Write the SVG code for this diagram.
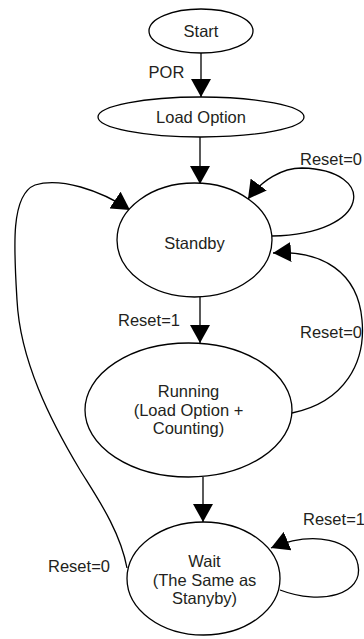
<svg xmlns="http://www.w3.org/2000/svg" width="364" height="639" viewBox="0 0 364 639">
  <style>
    .node ellipse { fill: #ffffff; stroke: #000000; stroke-width: 1.3; }
    .node text, .label { font-family: "Liberation Sans", Arial, sans-serif; font-size: 16.5px; fill: #231f20; text-anchor: middle; }
    .edge { fill: none; stroke: #000000; stroke-width: 1.3; marker-end: url(#arrow); }
  </style>
  <defs>
    <marker id="arrow" viewBox="0 0 18 20" refX="18" refY="10" markerWidth="18" markerHeight="20" markerUnits="userSpaceOnUse" orient="auto">
      <path d="M0,0 L18,10 L0,20 z" fill="#000000"/>
    </marker>
  </defs>
  <rect width="364" height="639" fill="#ffffff"/>

  <g id="connectors">
    <path class="edge" d="M201,53 L201,97"/>
    <path class="edge" d="M200,137 L200,184"/>
    <path class="edge" d="M200,297 L200,343"/>
    <path class="edge" d="M203,477 L203,522"/>
    <!-- Standby self loop -->
    <path class="edge" d="M272,236 C372,234 378,170 302,168 C282,168 262,180 248,199"/>
    <!-- Running back to Standby -->
    <path class="edge" d="M292,413 C345,402 366,362 362,320 C358,272 322,250 273,253"/>
    <!-- Wait back to Standby -->
    <path class="edge" d="M127,568 C120,530 96,496 80,470 C50,420 20,360 17,300 C14,250 10,195 35,185 C60,177 100,190 130,210"/>
    <!-- Wait self loop -->
    <path class="edge" d="M280,590 C322,606 364,594 358,565 C354,540 314,530 271,548"/>
  </g>

  <g id="start" class="node">
    <ellipse cx="201" cy="31" rx="52" ry="22"/>
    <text x="201" y="37">Start</text>
  </g>
  <g id="load-option" class="node">
    <ellipse cx="201" cy="117" rx="103" ry="20"/>
    <text x="201" y="123">Load Option</text>
  </g>
  <g id="standby" class="node">
    <ellipse cx="194.5" cy="240" rx="77.5" ry="57"/>
    <text x="194.5" y="249">Standby</text>
  </g>
  <g id="running" class="node">
    <ellipse cx="188.5" cy="410" rx="103.5" ry="67"/>
    <text x="188.5" y="397">Running</text>
    <text x="188.5" y="415.5">(Load Option +</text>
    <text x="188.5" y="434">Counting)</text>
  </g>
  <g id="wait" class="node">
    <ellipse cx="203.5" cy="578.5" rx="76.5" ry="56.5"/>
    <text x="204.5" y="567">Wait</text>
    <text x="204.5" y="585.5">(The Same as</text>
    <text x="204.5" y="604">Stanyby)</text>
  </g>

  <g id="labels">
    <text class="label" x="166.5" y="78">POR</text>
    <text class="label" x="331" y="165">Reset=0</text>
    <text class="label" x="149" y="326">Reset=1</text>
    <text class="label" x="331" y="338">Reset=0</text>
    <text class="label" x="334" y="525">Reset=1</text>
    <text class="label" x="79" y="572">Reset=0</text>
  </g>
</svg>
